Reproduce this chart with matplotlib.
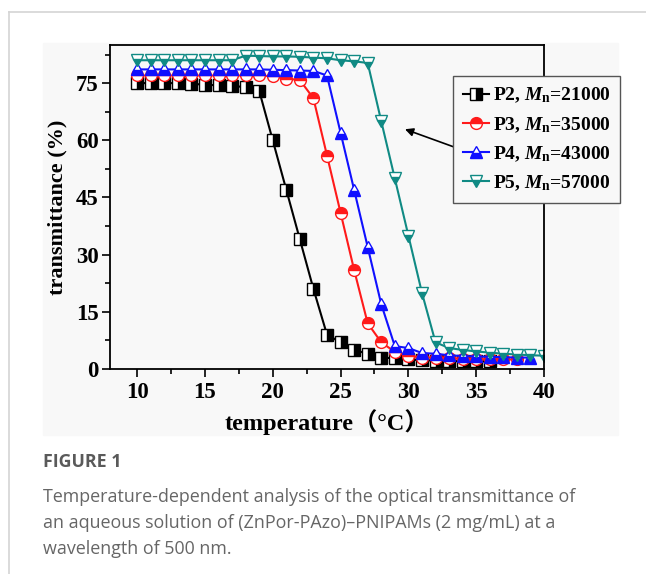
import matplotlib
matplotlib.use("Agg")
import matplotlib.pyplot as plt
from matplotlib.patches import Rectangle
from matplotlib.lines import Line2D
from matplotlib.ticker import MultipleLocator

# temperature (deg C)
t_p2 = list(range(10, 37))
t_p3 = list(range(10, 39))
t_p4 = list(range(10, 40))
t_p5 = list(range(10, 41))

# transmittance (%)
tr_p2 = [75, 75, 75, 75, 74.8, 74.6, 74.4, 74.2, 74, 73, 60, 47, 34, 21, 9, 7, 5,
         4, 3, 2.8, 2.5, 2.3, 2.2, 2.1, 2, 2, 2]
tr_p3 = [77, 77, 77, 77, 77, 77, 77, 77, 77, 77, 76.8, 76.2, 75.8, 71, 56, 41, 26,
         12, 7, 4.5, 3.5, 3, 3, 2.8, 2.7, 2.6, 2.5, 2.5, 2.5]
tr_p4 = [78.6, 78.6, 78.6, 78.6, 78.6, 78.6, 78.6, 78.6, 78.6, 78.6, 78.5, 78.4,
         78.3, 78.2, 77, 62, 47, 32, 17, 6, 5.5, 4.2, 4, 3.6, 3.4, 3.3, 3.2, 3.1,
         3, 3]
tr_p5 = [81, 81, 81, 81, 81, 81, 81, 81, 82.2, 82.1, 82, 82, 81.9, 81.7, 81.5, 81,
         80.7, 80.3, 65, 50, 35, 20, 7, 5.5, 5, 4.6, 4.3, 4, 3.8, 3.6, 3.5]

labels = [r"P2, $M_\mathregular{n}$=21000", r"P3, $M_\mathregular{n}$=35000",
          r"P4, $M_\mathregular{n}$=43000", r"P5, $M_\mathregular{n}$=57000"]
colors = ["black", "#ff1a1a", "#1010ff", "#108a84"]
markers = ["s", "o", "^", "v"]
fills = ["right", "top", "bottom", "bottom"]

plt.rcParams["mathtext.fontset"] = "custom"
plt.rcParams["mathtext.rm"] = "Liberation Serif:bold"
plt.rcParams["mathtext.it"] = "Liberation Serif:bold:italic"
plt.rcParams["mathtext.bf"] = "Liberation Serif:bold"

W, H = 646, 574
fig = plt.figure(figsize=(W / 100, H / 100), dpi=100)
fig.patch.set_facecolor("white")

# page frame lines and picture background
fig.add_artist(Line2D([9 / W, 1], [1 - 12 / H, 1 - 12 / H], color="#d4d4d4", lw=1.2))
fig.add_artist(Line2D([9 / W, 9 / W], [0, 1 - 12 / H], color="#d4d4d4", lw=1.2))
fig.add_artist(Rectangle((43 / W, 1 - 435 / H), (618 - 43) / W, (435 - 43) / H,
                         transform=fig.transFigure, color="#f8f8f8", zorder=0))

ax = fig.add_axes((110 / W, 1 - 369 / H, (544 - 110) / W, (369 - 45) / H))
ax.set_facecolor("#f8f8f8")

xs = [t_p2, t_p3, t_p4, t_p5]
ys = [tr_p2, tr_p3, tr_p4, tr_p5]
handles = []
for x, y, c, m, f, lab in zip(xs, ys, colors, markers, fills, labels):
    h, = ax.plot(x, y, color=c, lw=1.5, marker=m, ms=8.5, fillstyle=f,
                 markerfacecolor=c, markerfacecoloralt="white",
                 markeredgecolor=c, markeredgewidth=1.0, label=lab)
    handles.append(h)

ax.set_xlim(8, 40)
ax.set_ylim(0, 85)
ax.xaxis.set_minor_locator(MultipleLocator(2.5))
ax.yaxis.set_minor_locator(MultipleLocator(7.5))
ax.tick_params(which="both", direction="out", top=False, right=False, width=1.2)
ax.tick_params(which="major", length=6, pad=2)
ax.tick_params(axis="x", which="major", pad=3.5)
ax.tick_params(which="minor", length=3.5)
for s in ax.spines.values():
    s.set_linewidth(1.3)

tick_font = dict(family="Liberation Serif", weight="bold", size=16.5)
ax.set_xticks([10, 15, 20, 25, 30, 35, 40])
ax.set_xticklabels(["10", "15", "20", "25", "30", "35", "40"], **tick_font)
ax.set_yticks([0, 15, 30, 45, 60, 75])
ax.set_yticklabels(["0", "15", "30", "45", "60", "75"], **tick_font)

ax.set_xlabel("temperature\uff08°C\uff09", family=["Liberation Serif", "Noto Sans CJK SC"],
              weight="bold", size=17.5, labelpad=4)
ax.set_ylabel("transmittance (%)", family="Liberation Serif", weight="bold",
              size=16, labelpad=6)

leg = ax.legend(handles=handles, loc="upper left",
                bbox_to_anchor=(453 / W, 1 - 76 / H), bbox_transform=fig.transFigure,
                borderaxespad=0, frameon=True, fancybox=False, edgecolor="#555555",
                facecolor="#f8f8f8", framealpha=1, handlelength=1.35,
                handletextpad=0.2, labelspacing=0.5, borderpad=0.5,
                prop=dict(family="Liberation Serif", weight="bold", size=14))
leg.get_frame().set_linewidth(1.0)

ax.annotate("", xy=(29.75, 62.9), xytext=(33.4, 58.2),
            arrowprops=dict(arrowstyle="-|>", color="black", lw=1.2,
                            mutation_scale=12, shrinkA=0, shrinkB=0))

# caption
fig.text(43 / W, 1 - 467 / H, "FIGURE 1", family="Open Sans", weight="bold",
         size=12.8, color="#5a5a5a", va="baseline")
caption = ["Temperature-dependent analysis of the optical transmittance of",
           "an aqueous solution of (ZnPor-PAzo)\u2013PNIPAMs (2 mg/mL) at a",
           "wavelength of 500 nm."]
for i, line in enumerate(caption):
    fig.text(43 / W, 1 - (502 + 26 * i) / H, line, family="Open Sans",
             size=12.9, color="#666666", va="baseline")

fig.savefig("out.png", dpi=100)
